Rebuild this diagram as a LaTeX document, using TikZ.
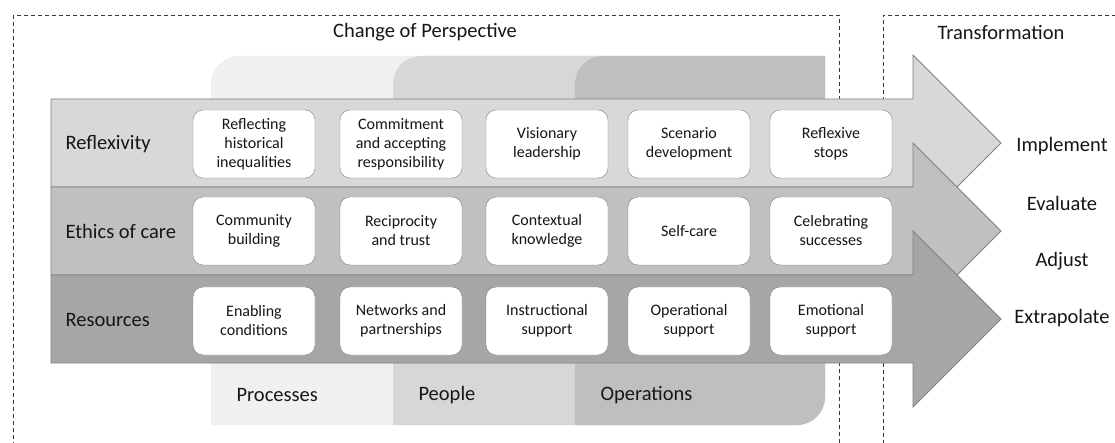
\documentclass[tikz,border=0pt]{standalone}
\usepackage{fontspec}
\setmainfont{Carlito}
\usepackage{tikz}
\usetikzlibrary{positioning}

\definecolor{inkgrey}{RGB}{22,22,22}
\definecolor{edgegrey}{RGB}{128,128,128}
\definecolor{framegrey}{RGB}{55,55,55}
\definecolor{bandA}{RGB}{216,216,216}
\definecolor{bandB}{RGB}{192,192,192}
\definecolor{bandC}{RGB}{166,166,166}
\definecolor{colP}{RGB}{240,240,240}
\definecolor{colQ}{RGB}{215,215,215}
\definecolor{colR}{RGB}{191,191,191}

\begin{document}
\begin{tikzpicture}[x=1pt,y=-1pt,
    cell/.style={draw=edgegrey,fill=white,rounded corners=10pt,
      minimum width=122pt,minimum height=68pt,inner sep=2pt,align=center,
      text=inkgrey,font=\fontsize{16}{19}\selectfont},
    bigtext/.style={text=inkgrey,font=\fontsize{20.5}{24}\selectfont},
    rowlabel/.style={bigtext,anchor=west},
    frame/.style={draw=framegrey,line width=0.9pt,dash pattern=on 4pt off 3pt},
    band/.style={draw=edgegrey,line width=0.8pt}]
  \useasboundingbox (0,0) rectangle (1115,443);
  % Dashed frames
  \draw[frame] (13,15) rectangle (839,460);
  \draw[frame] (1130,15) -| (883,460);
  \node[bigtext] (perspective) at (425,32) {Change of Perspective};
  \node[bigtext] (transform) at (1001,32) {Transformation};
  % Columns behind the bands
  \fill[colP] (211,425) [rounded corners=28pt] -- (211,56) [sharp corners] -- (825,56)
    [rounded corners=28pt] -- (825,425) [sharp corners] -- cycle;
  \fill[colQ] (393,425) [rounded corners=28pt] -- (393,56) [sharp corners] -- (825,56)
    [rounded corners=28pt] -- (825,425) [sharp corners] -- cycle;
  \fill[colR] (575,425) [rounded corners=28pt] -- (575,56) [sharp corners] -- (825,56)
    [rounded corners=28pt] -- (825,425) [sharp corners] -- cycle;
  \node[rowlabel] (processes) at (233,395) {Processes};
  \node[rowlabel] (people) at (415,395) {People};
  \node[rowlabel] (operations) at (597,395) {Operations};
  % Three arrows, the lower one over the upper one
  \draw[band,fill=bandA] (51,99) -- (913,99) -- (913,55) -- (1001,143)
    -- (913,231) -- (913,187) -- (51,187) -- cycle;
  \draw[band,fill=bandB] (51,187) -- (913,187) -- (913,143) -- (1001,231)
    -- (913,319) -- (913,275) -- (51,275) -- cycle;
  \draw[band,fill=bandC] (51,275) -- (913,275) -- (913,231) -- (1001,319)
    -- (913,407) -- (913,363) -- (51,363) -- cycle;
  % Row labels
  \node[rowlabel] (reflex) at (62,144) {Reflexivity};
  \node[rowlabel] (ethics) at (62,231) {Ethics of care};
  \node[rowlabel] (resources) at (62,320) {Resources};
  % First row
  \node[cell] (r1a) at (254,144) {Reflecting\\historical\\inequalities};
  \node[cell] (r1b) at (401,144) {Commitment\\and accepting\\responsibility};
  \node[cell] (r1c) at (547,144) {Visionary\\leadership};
  \node[cell] (r1d) at (689,144) {Scenario\\development};
  \node[cell] (r1e) at (831,144) {Reflexive\\stops};
  % Second row
  \node[cell] (r2a) at (254,231) {Community\\building};
  \node[cell] (r2b) at (401,231) {Reciprocity\\and trust};
  \node[cell] (r2c) at (547,231) {Contextual\\knowledge};
  \node[cell] (r2d) at (689,231) {Self-care};
  \node[cell] (r2e) at (831,231) {Celebrating\\successes};
  % Third row
  \node[cell] (r3a) at (254,321) {Enabling\\conditions};
  \node[cell] (r3b) at (401,321) {Networks and\\partnerships};
  \node[cell] (r3c) at (547,321) {Instructional\\support};
  \node[cell] (r3d) at (689,321) {Operational\\support};
  \node[cell] (r3e) at (831,321) {Emotional\\support};
  % Steps on the right
  \node[bigtext] (implement) at (1062,146) {Implement};
  \node[bigtext] (evaluate) at (1062,203) {Evaluate};
  \node[bigtext] (adjust) at (1062,261) {Adjust};
  \node[bigtext] (extrapolate) at (1062,318) {Extrapolate};
\end{tikzpicture}
\end{document}
